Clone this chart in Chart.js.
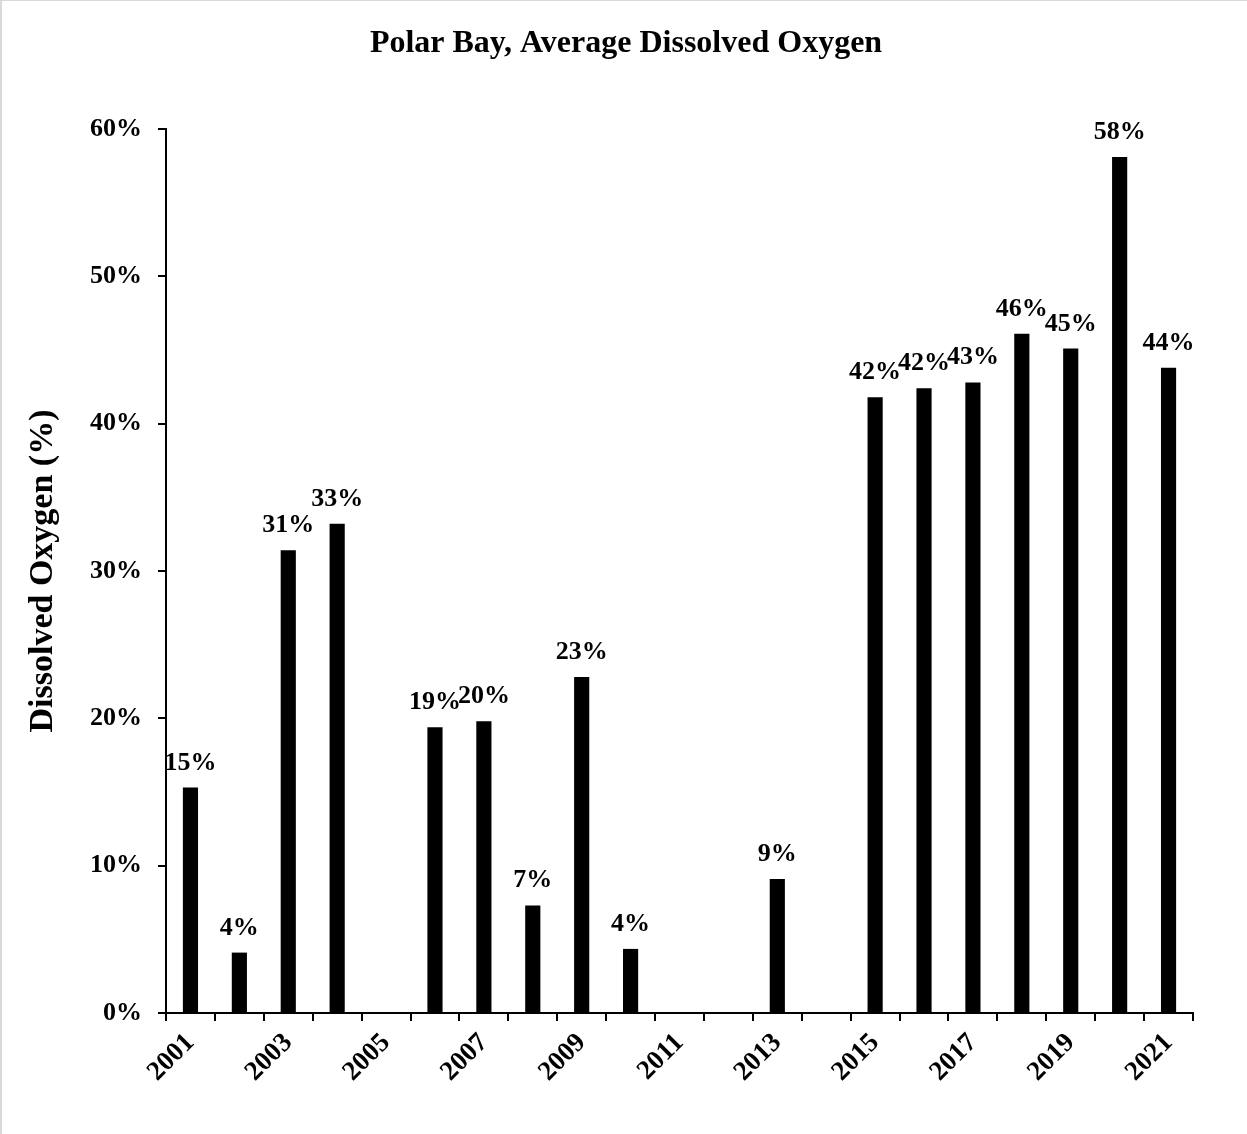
<!DOCTYPE html>
<html>
<head>
<meta charset="utf-8">
<title>Polar Bay, Average Dissolved Oxygen</title>
<script src="https://cdn.jsdelivr.net/npm/chart.js"></script>
<style>
  html, body { margin: 0; padding: 0; background: #fff; }
  #wrap {
    position: relative;
    width: 1247px;
    height: 1134px;
    box-sizing: border-box;
    border-top: 1px solid #d9d9d9;
    border-left: 2px solid #d9d9d9;
    overflow: hidden;
  }
  canvas { display: block; }
</style>
</head>
<body>
<div id="wrap">
  <canvas id="doChart" width="1245" height="1133"></canvas>
</div>
<script>
// Data
const years = ['2001', '2002', '2003', '2004', '2005', '2006', '2007', '2008', '2009', '2010', '2011',
               '2012', '2013', '2014', '2015', '2016', '2017', '2018', '2019', '2020', '2021'];
const oxygen = [15.3, 4.1, 31.4, 33.2, null, 19.4, 19.8, 7.3, 22.8, 4.35, null,
                null, 9.1, null, 41.8, 42.4, 42.8, 46.1, 45.1, 58.1, 43.8];
const yTicks = [0, 10, 20, 30, 40, 50, 60];
const chartTitle = 'Polar Bay, Average Dissolved Oxygen';

const serif = '"Liberation Serif", "Times New Roman", serif';

// title, a bit right of the canvas centre like the original
const topTitle = {
    id: 'topTitle',
    afterDraw(chart) {
        const ctx = chart.ctx;
        ctx.save();
        ctx.font = 'bold 32px ' + serif;
        ctx.fillStyle = '#000';
        ctx.textAlign = 'center';
        ctx.textBaseline = 'alphabetic';
        ctx.fillText(chartTitle, 624, 51);
        ctx.restore();
    }
};

// value labels above each bar
const barLabels = {
    id: 'barLabels',
    afterDatasetsDraw(chart) {
        const ctx = chart.ctx;
        const meta = chart.getDatasetMeta(0);
        ctx.save();
        ctx.font = 'bold 26px ' + serif;
        ctx.fillStyle = '#000';
        ctx.textAlign = 'center';
        ctx.textBaseline = 'alphabetic';
        meta.data.forEach(function(bar, i) {
            const v = oxygen[i];
            if (v === null) return;
            ctx.fillText(Math.round(v) + '%', bar.x, bar.y - 18);
        });
        ctx.restore();
    }
};

const ctx = document.getElementById('doChart').getContext('2d');
const chart = new Chart(ctx, {
    type: 'bar',
    data: {
        labels: years,
        datasets: [{
            label: 'Dissolved Oxygen',
            data: oxygen,
            backgroundColor: '#000',
            borderWidth: 0,
            categoryPercentage: 1,
            barPercentage: 0.31
        }]
    },
    options: {
        responsive: false,
        animation: false,
        layout: {
            padding: { left: 0, right: 54, top: 128, bottom: 0 }
        },
        plugins: {
            legend: { display: false },
            tooltip: { enabled: false },
            title: { display: false }
        },
        scales: {
            x: {
                offset: true,
                grid: {
                    offset: true,
                    drawOnChartArea: false,
                    drawTicks: true,
                    tickLength: 8,
                    color: '#000',
                    lineWidth: 2
                },
                border: { display: true, color: '#000', width: 2 },
                ticks: {
                    autoSkip: false,
                    maxRotation: 45,
                    minRotation: 45,
                    padding: 6,
                    color: '#000',
                    font: { family: serif, size: 27, weight: 'bold' },
                    callback: function(v, i) { return i % 2 === 0 ? years[i] : ''; }
                },
                afterFit: function(scale) { scale.height = 121; }
            },
            y: {
                min: 0,
                max: 60,
                afterBuildTicks: function(scale) {
                    scale.ticks = yTicks.map(function(v) { return { value: v }; });
                },
                grid: {
                    drawOnChartArea: false,
                    drawTicks: true,
                    tickLength: 8,
                    color: '#000',
                    lineWidth: 2
                },
                border: { display: true, color: '#000', width: 2 },
                ticks: {
                    padding: 16,
                    color: '#000',
                    font: { family: serif, size: 26, weight: 'bold' },
                    callback: function(v) { return v + '%'; }
                },
                title: {
                    display: true,
                    text: 'Dissolved Oxygen (%)',
                    color: '#000',
                    font: { family: serif, size: 34, weight: 'bold' },
                    padding: { top: 21, bottom: 0 }
                },
                afterFit: function(scale) { scale.width = 164; }
            }
        }
    },
    plugins: [barLabels, topTitle]
});
</script>
</body>
</html>
